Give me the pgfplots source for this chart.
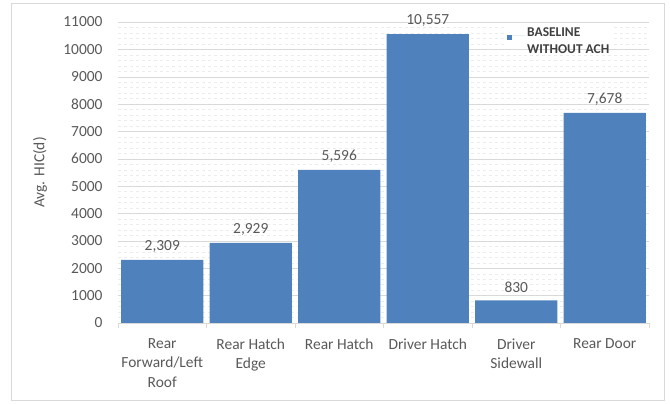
\documentclass[border=0pt]{standalone}
\usepackage{pgfplots}
\pgfplotsset{compat=1.18}
\usepackage{fontspec}
\setmainfont{Carlito}
\definecolor{barblue}{RGB}{79,129,189}
\definecolor{txtgray}{RGB}{89,89,89}
\definecolor{gridgray}{RGB}{217,217,217}
\definecolor{minorgray}{RGB}{236,236,236}
\begin{document}
\begin{tikzpicture}
\useasboundingbox (0,0) rectangle (670bp,-404bp);
\draw[gridgray] (11bp,-3bp) rectangle (664bp,-400bp);
\begin{axis}[
  at={(118bp,-323bp)}, anchor=south west,
  scale only axis, width=531bp, height=301bp,
  xmin=-0.5, xmax=5.5, ymin=0, ymax=11000,
  ybar, bar width=0.927,
  axis line style={draw=none},
  tick pos=left,
  tick align=outside,
  xtick={0,...,5},
  xticklabels={{Rear\\Forward/Left\\Roof},{Rear Hatch\\Edge},{Rear Hatch},{Driver Hatch},{Driver\\Sidewall},{Rear Door}},
  minor xtick={-0.5,0.5,...,5.5},
  major tick length=0pt,
  minor tick length=5bp,
  minor x tick style={gridgray},
  ytick={0,1000,...,11000},
  minor y tick num=4,
  minor y tick style={draw=none},
  ymajorgrids, yminorgrids,
  major grid style={gridgray},
  minor grid style={minorgray, dashed},
  /pgf/number format/assume math mode=true,
  scaled y ticks=false,
  y tick label style={/pgf/number format/1000 sep={}},
  ticklabel style={font=\fontsize{15.5}{19.5}\selectfont, text=txtgray},
  xticklabel style={align=center, yshift=-12bp},
  yticklabel style={xshift=-12bp},
  every axis y label/.style={at={(axis description cs:-0.147,0.5)}, rotate=90, anchor=center, font=\fontsize{15.5}{19.5}\selectfont, text=txtgray},
  ylabel={Avg. HIC(d)},
  nodes near coords={\pgfmathprintnumber[1000 sep={,}]{\pgfplotspointmeta}},
  every node near coord/.append style={font=\fontsize{15.5}{19.5}\selectfont, text=txtgray, yshift=4bp},
  legend style={at={(axis description cs:0.7326,0.954)}, anchor=west, draw=none, fill=white, inner sep=0pt,
    cells={anchor=west, inner sep=0pt, text=black!75}},
  legend image code/.code={\path (0bp,0bp) -- (18bp,0bp); \fill[barblue] (0bp,-4.5bp) rectangle (5bp,0.5bp);},
]
\addplot[fill=barblue, draw=none] coordinates {(0,2309) (1,2929) (2,5596) (3,10557) (4,830) (5,7678)};
\addlegendentry{\fontsize{13.5}{16.7}\selectfont\bfseries\begin{tabular}{@{}l@{}}BASELINE\\WITHOUT ACH\end{tabular}}
\draw[gridgray] (rel axis cs:0,0) -- (rel axis cs:1,0);
\end{axis}
\end{tikzpicture}
\end{document}
